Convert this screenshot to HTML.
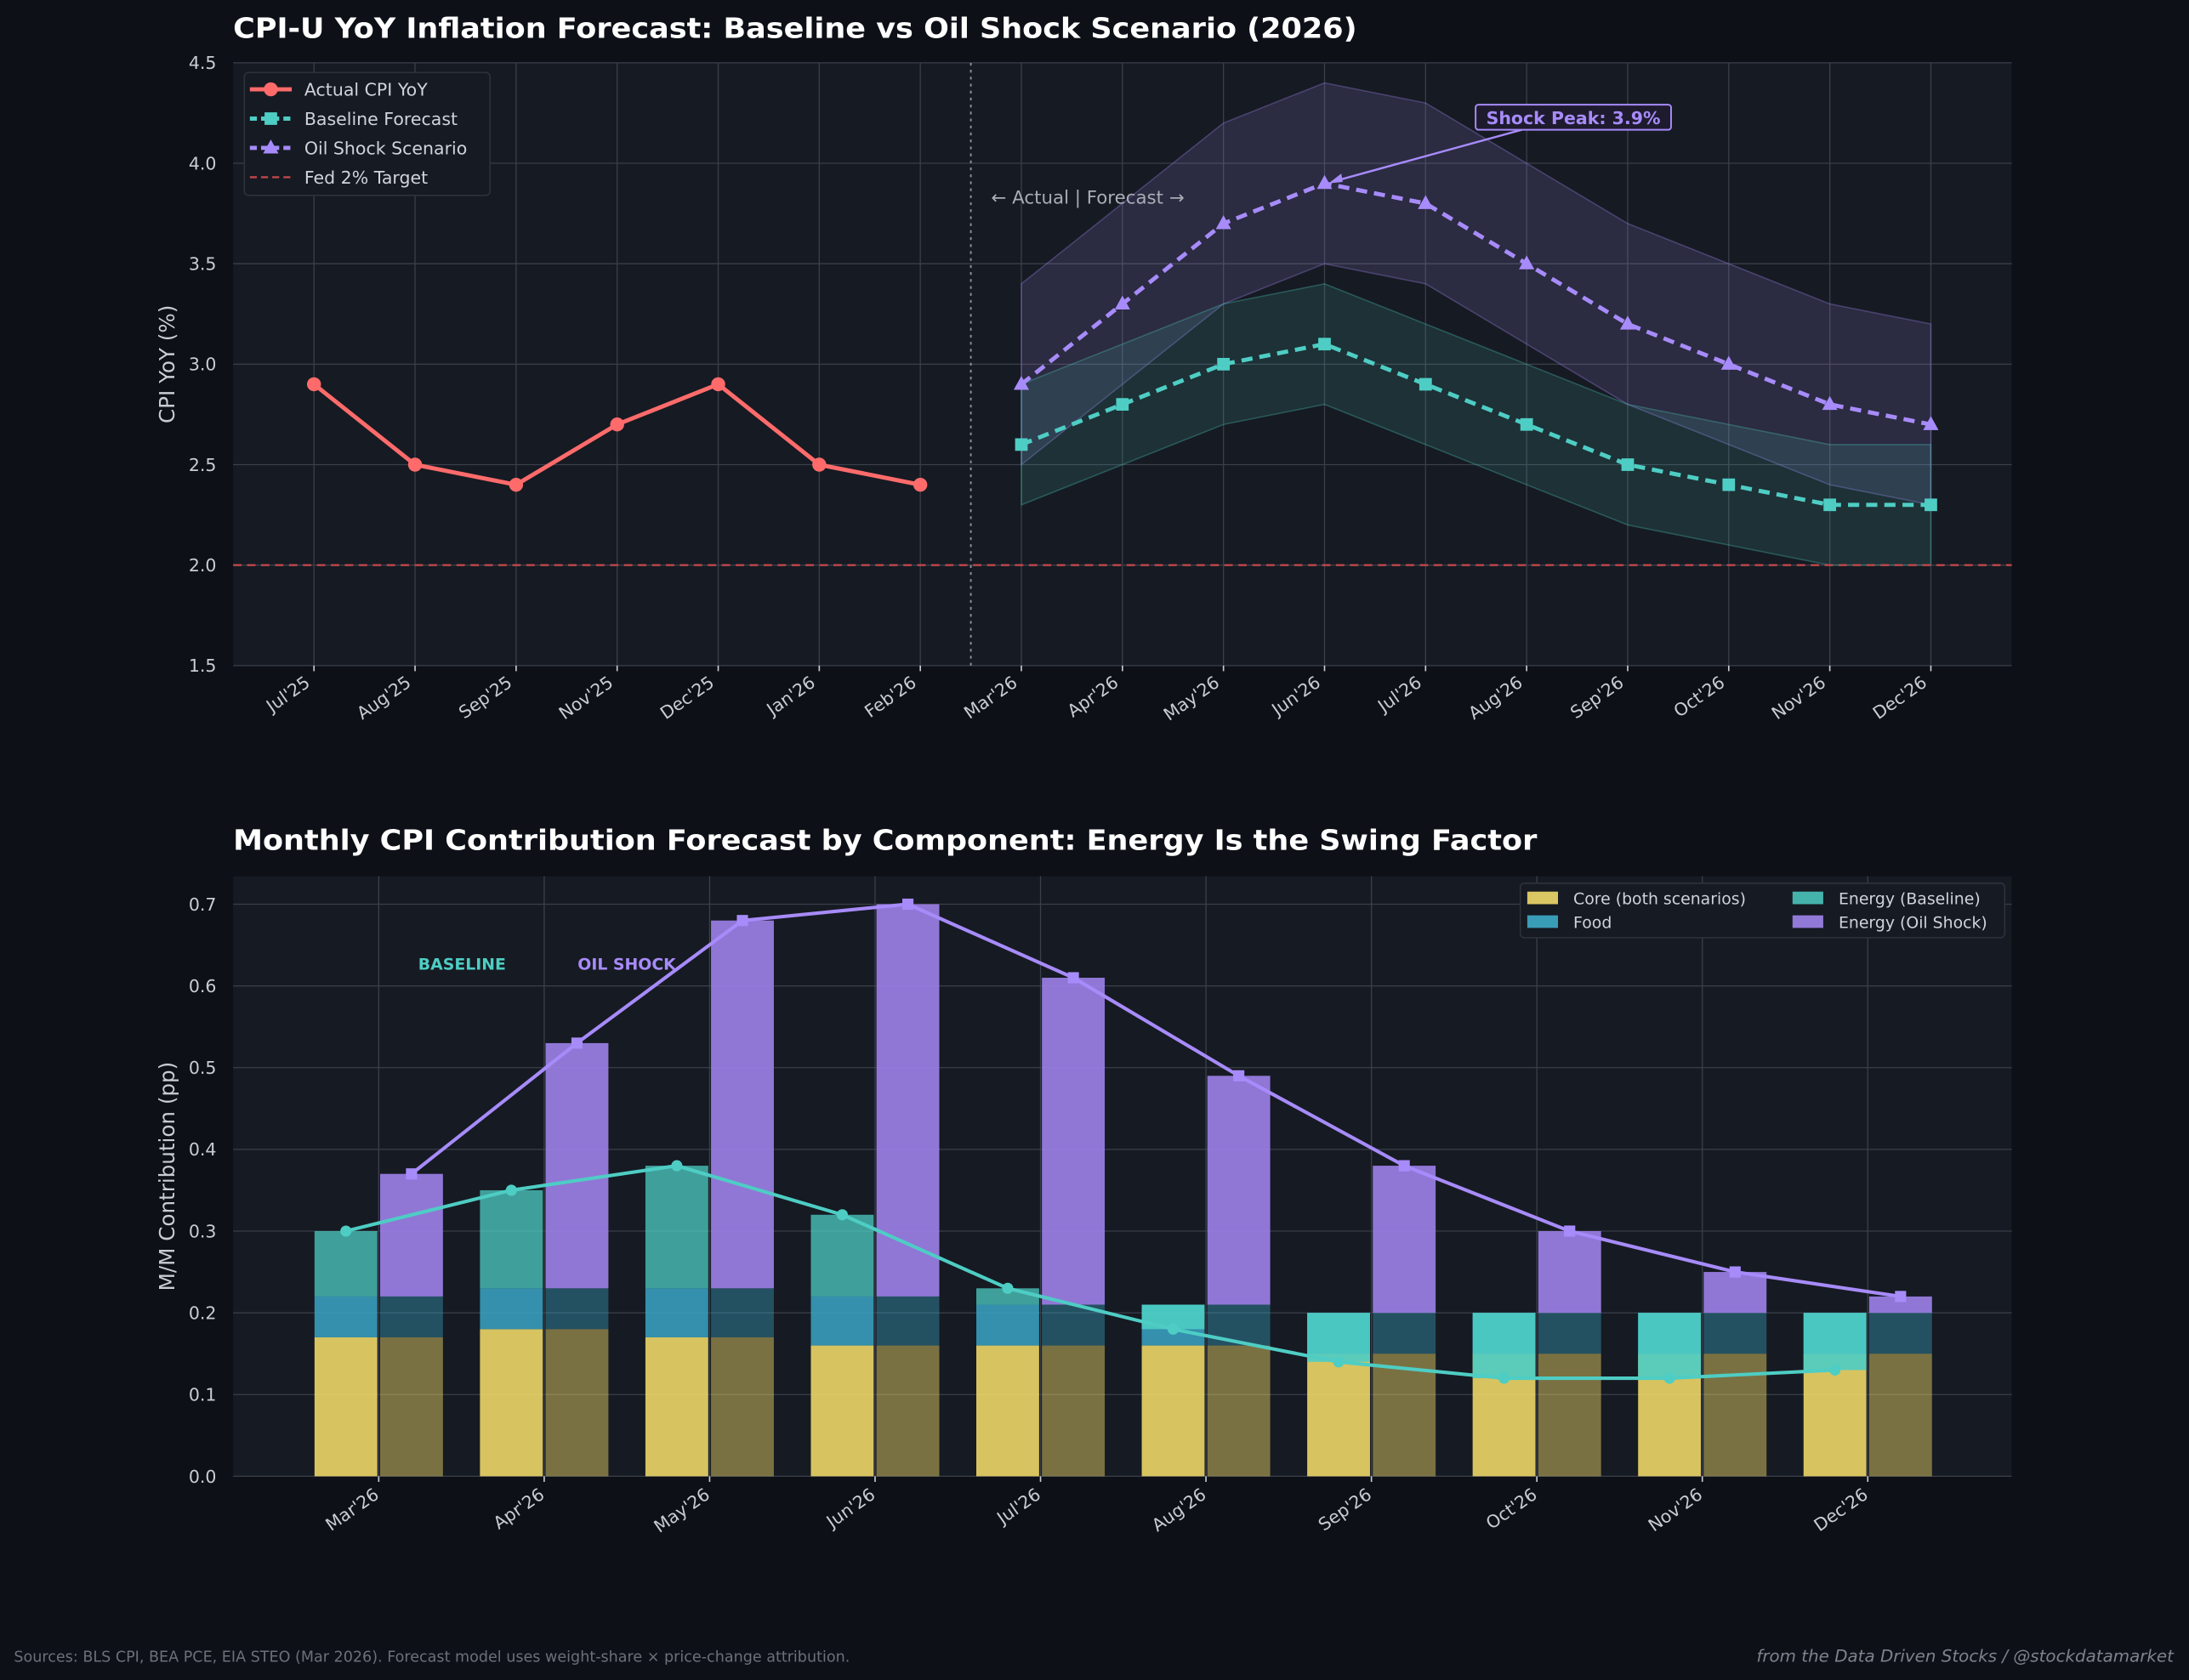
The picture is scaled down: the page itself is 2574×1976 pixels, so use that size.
<!DOCTYPE html>
<html><head><meta charset="utf-8"><style>
html,body{margin:0;padding:0;background:#0d1017;}
svg{display:block;font-family:"DejaVu Sans","Liberation Sans",sans-serif;}
</style></head><body>
<svg id="fig" width="2574" height="1976" viewBox="0 0 1568 1204" preserveAspectRatio="none" xmlns="http://www.w3.org/2000/svg">
<rect x="0" y="0" width="1568" height="1204" fill="#0d1017"/>
</svg>
<script>
// ---- Top chart data ----
const topCats = ["Jul'25","Aug'25","Sep'25","Nov'25","Dec'25","Jan'26","Feb'26","Mar'26","Apr'26","May'26","Jun'26","Jul'26","Aug'26","Sep'26","Oct'26","Nov'26","Dec'26"];
const actualVals = [2.9,2.5,2.4,2.7,2.9,2.5,2.4];
const baseVals = [2.6,2.8,3.0,3.1,2.9,2.7,2.5,2.4,2.3,2.3];
const baseLow = [2.3,2.5,2.7,2.8,2.6,2.4,2.2,2.1,2.0,2.0];
const baseHigh = [2.9,3.1,3.3,3.4,3.2,3.0,2.8,2.7,2.6,2.6];
const shockVals = [2.9,3.3,3.7,3.9,3.8,3.5,3.2,3.0,2.8,2.7];
const shockLow = [2.5,2.9,3.3,3.5,3.4,3.1,2.8,2.6,2.4,2.3];
const shockHigh = [3.4,3.8,4.2,4.4,4.3,4.0,3.7,3.5,3.3,3.2];
const topYTicks = [1.5,2.0,2.5,3.0,3.5,4.0,4.5];
const fedTarget = 2.0;
// ---- Bottom chart data ----
const botCats = ["Mar'26","Apr'26","May'26","Jun'26","Jul'26","Aug'26","Sep'26","Oct'26","Nov'26","Dec'26"];
const coreVals = [0.17,0.18,0.17,0.16,0.16,0.16,0.15,0.15,0.15,0.15];
const foodVals = [0.05,0.05,0.06,0.06,0.05,0.05,0.05,0.05,0.05,0.05];
const energyBase = [0.08,0.12,0.15,0.10,0.02,-0.03,-0.06,-0.08,-0.08,-0.07];
const energyShock = [0.15,0.30,0.45,0.48,0.40,0.28,0.18,0.10,0.05,0.02];
const botYTicks = [0.0,0.1,0.2,0.3,0.4,0.5,0.6,0.7];

const NS="http://www.w3.org/2000/svg";
const svg=document.getElementById('fig');
function el(tag,attrs,parent,text){const e=document.createElementNS(NS,tag);for(const k in attrs)e.setAttribute(k,attrs[k]);if(text!==undefined)e.textContent=text;(parent||svg).appendChild(e);return e;}

// ===== TOP CHART =====
const T={l:167,r:1441,t:45,b:477};
const tx=i=>T.l+(i+0.8)/17.6*(T.r-T.l);
const ty=v=>T.b-(v-1.5)/3.0*(T.b-T.t);
const gTop=el('g',{});


el('rect',{x:T.l,y:T.t,width:T.r-T.l,height:T.b-T.t,fill:'#161a22'},gTop);
topYTicks.forEach(v=>{
  el('line',{x1:T.l,x2:T.r,y1:ty(v),y2:ty(v),stroke:'#3a3f4a','stroke-width':0.8},gTop);
  const t=el('text',{x:T.l-12,y:ty(v)+4.5,'text-anchor':'end','font-size':12.5,fill:'#c9ccd3'},gTop,v.toFixed(1));
  
  
});
topCats.forEach((c,i)=>{
  el('line',{x1:tx(i),x2:tx(i),y1:T.t,y2:T.b,stroke:'#3a3f4a','stroke-width':0.8},gTop);
  el('line',{x1:tx(i),x2:tx(i),y1:T.b,y2:T.b+4,stroke:'#c9ccd3','stroke-width':1},gTop);
  const t=el('text',{x:tx(i)-2,y:T.b+14,'text-anchor':'end','font-size':12.5,fill:'#c9ccd3',transform:`rotate(-35 ${tx(i)-2} ${T.b+14})`},gTop,c);
  
  
});
function band(lo,hi,off,fill,op,stroke){
  let d='';hi.forEach((v,i)=>d+=(i?'L':'M')+tx(i+off)+','+ty(v));
  for(let i=lo.length-1;i>=0;i--)d+='L'+tx(i+off)+','+ty(lo[i]);
  return el('path',{d:d+'Z',fill:fill,'fill-opacity':op,stroke:stroke,'stroke-opacity':0.3,'stroke-width':1},gTop);
}
const b1=band(shockLow,shockHigh,7,'#a78bfa',0.15,'#a78bfa');


const b2=band(baseLow,baseHigh,7,'#4ecdc4',0.13,'#4ecdc4');


const fed=el('line',{x1:T.l,x2:T.r,y1:ty(fedTarget),y2:ty(fedTarget),stroke:'#c0474b','stroke-width':1.5,'stroke-dasharray':'6,4'},gTop);


const div=el('line',{x1:tx(6.5),x2:tx(6.5),y1:T.t,y2:T.b,stroke:'#8a8f99','stroke-width':1.2,'stroke-dasharray':'2,3'},gTop);


const dl=el('text',{x:710,y:146,'font-size':13,fill:'#a9adb5','xml:space':'preserve'},gTop,'← Actual  |  Forecast →');


function series(vals,off,color,dash,marker,name){
  const g=el('g',{},gTop);
  
  
  el('polyline',{points:vals.map((v,i)=>tx(i+off)+','+ty(v)).join(' '),fill:'none',stroke:color,'stroke-width':3,'stroke-dasharray':dash},g);
  vals.forEach((v,i)=>{
    const x=tx(i+off),y=ty(v);let m;
    if(marker==='o')m=el('circle',{cx:x,cy:y,r:5,fill:color},g);
    else if(marker==='s')m=el('rect',{x:x-4.5,y:y-4.5,width:9,height:9,fill:color},g);
    else m=el('polygon',{points:`${x},${y-6} ${x-5.5},${y+4} ${x+5.5},${y+4}`,fill:color},g);
    
    
  });
}
series(actualVals,0,'#ff6b6b','','o','actual-series');
series(baseVals,7,'#4ecdc4','8,5','s','baseline-series');
series(shockVals,7,'#a78bfa','8,5','^','oil-shock-series');
// annotation
const peakI=shockVals.indexOf(Math.max(...shockVals));
const ann=el('g',{},gTop);


el('line',{x1:1090,y1:93,x2:tx(peakI+7)+5,y2:ty(shockVals[peakI])-1,stroke:'#a78bfa','stroke-width':1.5},ann);
el('polygon',{points:`${tx(peakI+7)+3},${ty(shockVals[peakI])} ${tx(peakI+7)+12},${ty(shockVals[peakI])-7} ${tx(peakI+7)+13},${ty(shockVals[peakI])-1}`,fill:'#a78bfa'},ann);
el('rect',{x:1057,y:75,width:140,height:18,rx:2,fill:'#1e1b2e',stroke:'#a78bfa','stroke-width':1.2},ann);
el('text',{x:1127,y:89,'text-anchor':'middle','font-size':12.5,'font-weight':'bold',fill:'#a78bfa'},ann,'Shock Peak: '+shockVals[peakI].toFixed(1)+'%');
// legend
const lg=el('g',{},gTop);


el('rect',{x:175,y:52,width:176,height:88,rx:3,fill:'#161a22',stroke:'#2c313b'},lg);
[['Actual CPI YoY','#ff6b6b','','o'],['Baseline Forecast','#4ecdc4','5,3','s'],['Oil Shock Scenario','#a78bfa','5,3','^'],['Fed 2% Target','#c0474b','5,3','']].forEach((e,i)=>{
  const y=64+i*21;
  const ge=el('g',{},lg);
  
  
  el('line',{x1:179,x2:209,y1:y,y2:y,stroke:e[1],'stroke-width':i===3?1.5:3,'stroke-dasharray':i===0?'':e[2]},ge);
  if(e[3]==='o')el('circle',{cx:194,cy:y,r:5,fill:e[1]},ge);
  if(e[3]==='s')el('rect',{x:189.5,y:y-4.5,width:9,height:9,fill:e[1]},ge);
  if(e[3]==='^')el('polygon',{points:`194,${y-6} 188.5,${y+4} 199.5,${y+4}`,fill:e[1]},ge);
  el('text',{x:218,y:y+4.5,'font-size':12.5,fill:'#d0d3da'},ge,e[0]);
});
const ttl=el('text',{x:167,y:27,'font-size':20,'font-weight':'bold',fill:'#ffffff',textLength:805,lengthAdjust:'spacingAndGlyphs'},gTop,'CPI-U YoY Inflation Forecast: Baseline vs Oil Shock Scenario (2026)');


const yl=el('text',{x:125,y:261,'text-anchor':'middle','font-size':15,fill:'#c9ccd3',transform:'rotate(-90 125 261)'},gTop,'CPI YoY (%)');



// ===== BOTTOM CHART =====
const B={l:167,r:1441,t:628,b:1058};
const bx=i=>B.l+(i+0.88)/10.75*(B.r-B.l);
const by=v=>B.b-v/0.7*(B.b-648);
const bw=45;
const gB=el('g',{});


el('rect',{x:B.l,y:B.t,width:B.r-B.l,height:B.b-B.t,fill:'#161a22'},gB);
botYTicks.forEach(v=>{
  el('line',{x1:B.l,x2:B.r,y1:by(v),y2:by(v),stroke:'#3a3f4a','stroke-width':0.8},gB);
  const t=el('text',{x:B.l-12,y:by(v)+4.5,'text-anchor':'end','font-size':12.5,fill:'#c9ccd3'},gB,v.toFixed(1));
  
  
});
botCats.forEach((c,i)=>{
  el('line',{x1:bx(i),x2:bx(i),y1:B.t,y2:B.b,stroke:'#3a3f4a','stroke-width':0.8},gB);
  el('line',{x1:bx(i),x2:bx(i),y1:B.b,y2:B.b+4,stroke:'#c9ccd3','stroke-width':1},gB);
  const t=el('text',{x:bx(i)+1,y:B.b+15,'text-anchor':'end','font-size':12.5,fill:'#c9ccd3',transform:`rotate(-35 ${bx(i)+1} ${B.b+15})`},gB,c);
  
  
});
function rectV(x,v0,v1,fill,op,name){
  const y0=by(Math.max(v0,v1)),y1=by(Math.min(v0,v1));
  const r=el('rect',{x:x,y:y0,width:bw,height:y1-y0,fill:fill,'fill-opacity':op},gB);
  
  
}
botCats.forEach((c,i)=>{
  const xb=bx(i)-bw-1, xs=bx(i)+1;
  const cf=coreVals[i]+foodVals[i];
  rectV(xb,0,coreVals[i],'#f5dc6a',0.87,'bar-core-baseline');
  rectV(xb,coreVals[i],cf,'#3aa6c4',0.85,'bar-food-baseline');
  if(energyBase[i]>=0) rectV(xb,cf,cf+energyBase[i],'#4ecdc4',0.75,'bar-energy-baseline');
  else rectV(xb,cf+energyBase[i],cf,'#4ecdc4',0.9,'bar-energy-baseline');
  rectV(xs,0,coreVals[i],'#f5dc6a',0.45,'bar-core-shock');
  rectV(xs,coreVals[i],cf,'#3aa6c4',0.4,'bar-food-shock');
  rectV(xs,cf,cf+energyShock[i],'#9b7fe6',0.92,'bar-energy-shock');
});
function bline(vals,color,marker,name){
  const g=el('g',{},gB);
  
  
  const off=marker==='s'?(bw/2+1):-(bw/2+1);
  el('polyline',{points:vals.map((v,i)=>(bx(i)+off)+','+by(v)).join(' '),fill:'none',stroke:color,'stroke-width':2.5},g);
  vals.forEach((v,i)=>{
    const x=bx(i)+off,y=by(v);
    const m=marker==='s'?el('rect',{x:x-4,y:y-4,width:8,height:8,fill:color},g):el('circle',{cx:x,cy:y,r:4,fill:color},g);
    
    
  });
}
bline(coreVals.map((v,i)=>v+foodVals[i]+energyBase[i]),'#4ecdc4','o','baseline-total-line');
bline(coreVals.map((v,i)=>v+foodVals[i]+energyShock[i]),'#a78bfa','s','oil-shock-total-line');
const l1=el('text',{x:331,y:695,'text-anchor':'middle','font-size':11.5,'font-weight':'bold',fill:'#4ecdc4'},gB,'BASELINE');


const l2=el('text',{x:449,y:695,'text-anchor':'middle','font-size':11.5,'font-weight':'bold',fill:'#a78bfa'},gB,'OIL SHOCK');


const lg2=el('g',{},gB);


el('rect',{x:1089,y:633,width:347,height:39,rx:3,fill:'#161a22',stroke:'#2c313b'},lg2);
[['Core (both scenarios)','#dac663',1094,644],['Food','#3a9db8',1094,661],['Energy (Baseline)','#45b3ac',1284,644],['Energy (Oil Shock)','#9179d8',1284,661]].forEach(e=>{
  const ge=el('g',{},lg2);
  
  
  el('rect',{x:e[2],y:e[3]-5,width:22,height:9,fill:e[1]},ge);
  el('text',{x:e[2]+33,y:e[3]+4,'font-size':11.5,fill:'#d0d3da'},ge,e[0]);
});
const t2=el('text',{x:167,y:609,'font-size':20,'font-weight':'bold',fill:'#ffffff',textLength:934,lengthAdjust:'spacingAndGlyphs'},gB,'Monthly CPI Contribution Forecast by Component: Energy Is the Swing Factor');


const yl2=el('text',{x:125,y:843,'text-anchor':'middle','font-size':15,fill:'#c9ccd3',transform:'rotate(-90 125 843)'},gB,'M/M Contribution (pp)');


const src=el('text',{x:10,y:1191,'font-size':10.7,fill:'#6b7079'},svg,'Sources: BLS CPI, BEA PCE, EIA STEO (Mar 2026). Forecast model uses weight-share × price-change attribution.');


const cr=el('text',{x:1557,y:1191,'text-anchor':'end','font-size':12.1,'font-style':'italic',fill:'#7d828c'},svg,'from the Data Driven Stocks / @stockdatamarket');


</script>
</body></html>
